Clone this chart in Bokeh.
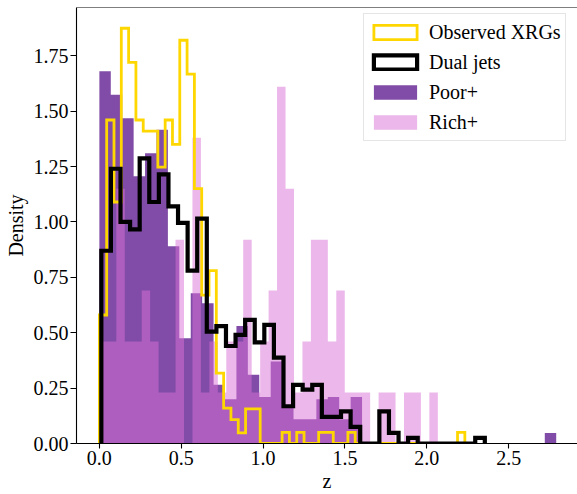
import numpy as np
from bokeh.plotting import figure
from bokeh.models import Range1d, FixedTicker, NumeralTickFormatter, Legend, LegendItem, Span
from bokeh.core.properties import value
from bokeh.embed import file_html
from bokeh.resources import INLINE

# ---------------- data ----------------
X_TICKS = [0.0, 0.5, 1.0, 1.5, 2.0, 2.5]
Y_TICKS = [0.0, 0.25, 0.5, 0.75, 1.0, 1.25, 1.5, 1.75]
SERIES_LABELS = ["Observed XRGs", "Dual jets", "Poor+", "Rich+"]
X_LABEL = "z"
Y_LABEL = "Density"

# Observed XRGs: 50 bins between these redshifts
OBS_Z_RANGE = (0.0, 2.232)
OBS_DENSITY = [0.58, 1.46, 1.09, 1.874, 1.72, 1.46, 1.41, 1.41, 1.247, 1.46,
               1.35, 1.82, 1.667, 1.15, 0.67, 0.78, 0.318, 0.16, 0.108, 0.048,
               0.156, 0.156, 0.0, 0.0, 0.0, 0.05, 0.0, 0.05, 0.0, 0.0,
               0.05, 0.05, 0.0, 0.0, 0.05, 0.0, 0.0, 0.0, 0.0, 0.0,
               0.0, 0.0, 0.0, 0.0, 0.0, 0.0, 0.0, 0.0, 0.0, 0.05]

# Dual jets: 40 bins
DUAL_Z_RANGE = (0.012, 2.354)
DUAL_DENSITY = [0.87, 1.24, 1.0, 0.966, 1.287, 1.09, 1.215, 1.07, 0.996, 0.78,
                1.015, 0.505, 0.53, 0.44, 0.49, 0.558, 0.456, 0.535, 0.388, 0.168,
                0.265, 0.243, 0.265, 0.12, 0.12, 0.145, 0.075, 0.0, 0.0, 0.145,
                0.048, 0.0, 0.025, 0.0, 0.0, 0.0, 0.0, 0.0, 0.0, 0.025]

# Poor+: 40 bins
POOR_Z_RANGE = (0.0, 2.79)
POOR_DENSITY = [1.68, 1.574, 1.468, 1.206, 1.31, 1.416, 0.89, 0.475, 0.678, 0.633,
                0.265, 0.2, 0.53, 0.31, 0.21, 0.37, 0.16, 0.11, 0.11, 0.2,
                0.21, 0.11, 0.21, 0.0, 0.0, 0.0, 0.0, 0.0, 0.0, 0.0,
                0.0, 0.0, 0.0, 0.0, 0.0, 0.0, 0.0, 0.0, 0.0, 0.047]

# Rich+: 40 bins
RICH_Z_RANGE = (0.0, 2.067)
RICH_DENSITY = [0.46, 0.46, 1.15, 0.46, 0.46, 0.69, 0.46, 0.23, 0.23, 0.92,
                0.0, 1.38, 0.23, 0.46, 0.23, 0.46, 0.46, 0.92, 0.23, 0.46,
                0.69, 1.61, 1.15, 0.23, 0.46, 0.92, 0.92, 0.46, 0.69, 0.23,
                0.23, 0.23, 0.0, 0.23, 0.23, 0.0, 0.23, 0.23, 0.0, 0.23]

# ---------------- helpers ----------------
def step_outline(zrange, dens):
    edges = np.linspace(zrange[0], zrange[1], len(dens) + 1)
    xs, ys = [edges[0]], [0.0]
    for i, d in enumerate(dens):
        xs += [edges[i], edges[i + 1]]
        ys += [d, d]
    xs.append(edges[-1])
    ys.append(0.0)
    return xs, ys

FONT = "Liberation Serif"
GOLD = "#FFD700"

y_top = max(OBS_DENSITY + DUAL_DENSITY + POOR_DENSITY + RICH_DENSITY) * 1.05

p = figure(width=577, height=494, output_backend="svg", toolbar_location=None,
           x_range=Range1d(-0.1397, 2.92), y_range=Range1d(0, y_top),
           min_border_left=76, min_border_right=0, min_border_top=7, min_border_bottom=50)
p.outline_line_color = None
p.xgrid.visible = False
p.ygrid.visible = False
p.background_fill_color = "white"
p.border_fill_color = "white"

# filled histograms
px, py = step_outline(POOR_Z_RANGE, POOR_DENSITY)
r_poor = p.patch(px, py, fill_color="indigo", fill_alpha=0.7, line_color=None)
rx, ry = step_outline(RICH_Z_RANGE, RICH_DENSITY)
r_rich = p.patch(rx, ry, fill_color="orchid", fill_alpha=0.5, line_color=None)

# step histograms
ox, oy = step_outline(OBS_Z_RANGE, OBS_DENSITY)
p.line(ox, oy, line_color=GOLD, line_width=2.8, line_join="miter")
dx, dy = step_outline(DUAL_Z_RANGE, DUAL_DENSITY)
p.line(dx, dy, line_color="black", line_width=4.2, line_join="miter")

# legend-only outline boxes (degenerate, zero-size at the histogram start)
leg_obs = p.quad(left=[OBS_Z_RANGE[0]], right=[OBS_Z_RANGE[0]], bottom=[0.0], top=[0.0],
                 fill_color=None, line_color=GOLD, line_width=2.8, line_join="miter")
leg_dual = p.quad(left=[DUAL_Z_RANGE[0]], right=[DUAL_Z_RANGE[0]], bottom=[0.0], top=[0.0],
                  fill_color=None, line_color="black", line_width=4.2, line_join="miter")

# top spine
p.add_layout(Span(location=y_top, dimension="width", line_color="black", line_width=1.1))

# axes
for ax in (p.xaxis[0], p.yaxis[0]):
    ax.axis_line_color = "black"
    ax.axis_line_width = 1.1
    ax.major_tick_line_color = "black"
    ax.major_tick_line_width = 1.1
    ax.major_tick_in = 0
    ax.minor_tick_in = 0
    ax.minor_tick_out = 0
    ax.major_label_text_font = FONT
    ax.major_label_text_font_size = "20px"
    ax.major_label_text_color = "black"
    ax.axis_label_text_font = FONT
    ax.axis_label_text_font_size = "20px"
    ax.axis_label_text_font_style = "normal"
    ax.axis_label_text_color = "black"

p.xaxis[0].ticker = FixedTicker(ticks=X_TICKS)
p.xaxis[0].formatter = NumeralTickFormatter(format="0.0")
p.xaxis[0].major_tick_out = 5
p.xaxis[0].major_label_standoff = 2
p.xaxis[0].major_label_text_line_height = 1.0
p.xaxis[0].axis_label = X_LABEL
p.xaxis[0].axis_label_text_line_height = 1.0
p.xaxis[0].axis_label_standoff = 2

p.yaxis[0].ticker = FixedTicker(ticks=Y_TICKS)
p.yaxis[0].formatter = NumeralTickFormatter(format="0.00")
p.yaxis[0].major_tick_out = 6
p.yaxis[0].major_label_standoff = 2
p.yaxis[0].axis_label = Y_LABEL
p.yaxis[0].axis_label_standoff = 4

legend = Legend(items=[
    LegendItem(label=value(SERIES_LABELS[0]), renderers=[leg_obs]),
    LegendItem(label=value(SERIES_LABELS[1]), renderers=[leg_dual]),
    LegendItem(label=value(SERIES_LABELS[2]), renderers=[r_poor]),
    LegendItem(label=value(SERIES_LABELS[3]), renderers=[r_rich]),
], location=(287, 302), padding=4, spacing=2, label_height=28,
    glyph_height=18, glyph_width=54, label_standoff=7, margin=0,
    label_text_font=FONT, label_text_font_size="20px", label_text_color="black",
    border_line_color="#cccccc", border_line_width=1,
    background_fill_color="white", background_fill_alpha=0.8)
p.add_layout(legend)

open("out.html", "w").write(file_html(p, INLINE))
